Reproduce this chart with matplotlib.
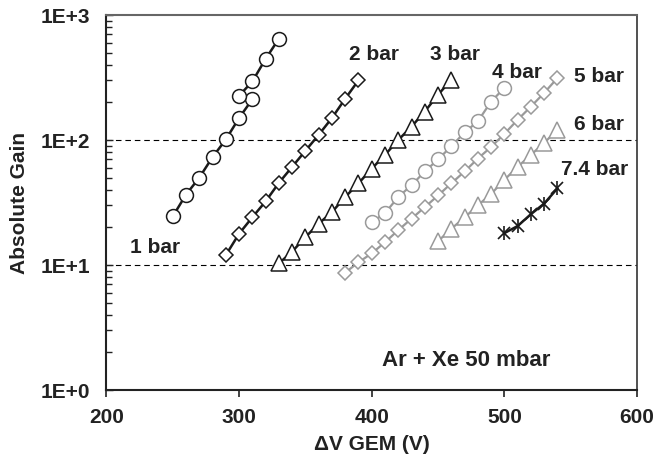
import matplotlib.pyplot as plt

plt.rcParams['font.family'] = ['Liberation Sans', 'DejaVu Sans']
plt.rcParams['font.weight'] = 'bold'

# 1 bar (two runs)
v1 = [250, 260, 270, 280, 290, 300, 310, 300, 310, 320, 330]
g1 = [24.5, 36.6, 50, 73, 101, 150, 212, 226, 294, 446, 646]

v2 = [290, 300, 310, 320, 330, 340, 350, 360, 370, 380, 390]
g2 = [12.0, 17.8, 24.1, 32.3, 45.4, 61, 82, 110, 150, 214, 300]

v3 = [330, 340, 350, 360, 370, 380, 390, 400, 410, 420, 430, 440, 450, 460]
g3 = [10.3, 12.8, 16.7, 21.4, 26.5, 35, 45, 59, 76, 100, 128, 169, 230, 304]

v4 = [400, 410, 420, 430, 440, 450, 460, 470, 480, 490, 500]
g4 = [22, 26, 35, 43.5, 56, 70, 89, 115, 141, 203, 261]

v5 = [380, 390, 400, 410, 420, 430, 440, 450, 460, 470, 480, 490, 500, 510, 520, 530, 540]
g5 = [8.7, 10.5, 12.4, 15.2, 19, 23.5, 29, 36, 45, 56, 71, 88, 112, 145, 185, 238, 313]

v6 = [450, 460, 470, 480, 490, 500, 510, 520, 530, 540]
g6 = [15.5, 19.5, 24, 30, 37, 48, 61, 76, 95, 120]

v74 = [500, 510, 520, 530, 540]
g74 = [18, 20.5, 25.5, 31, 41]

labels = ['1 bar', '2 bar', '3 bar', '4 bar', '5 bar', '6 bar', '7.4 bar']
label_pos = [(217.7, 12.5), (382.9, 437), (444, 437), (490.5, 312),
             (552.6, 293), (552.6, 120), (542.8, 52.5)]

dark = '#1a1a1a'
gray = '#9a9a9a'

fig = plt.figure(figsize=(6.56, 4.62), dpi=100)
ax = fig.add_axes([0.1623, 0.1558, 0.8087, 0.8117])

ax.set_yscale('log')
ax.set_xlim(200, 600)
ax.set_ylim(1, 1000)

for yv in [10, 100]:
    ax.axhline(yv, color='black', lw=0.8, ls=(0, (5, 3.5)), zorder=1)

common = dict(mfc='white', mew=1.1, zorder=3)
ax.plot(v1, g1, '-', marker='o', color=dark, lw=1.8, ms=10, mec=dark, **common)
ax.plot(v2, g2, '-', marker='D', color=dark, lw=1.8, ms=7.5, mec=dark, **common)
ax.plot(v3, g3, '-', marker='^', color=dark, lw=1.8, ms=11, mec=dark, **common)
ax.plot(v4, g4, '-', marker='o', color=gray, lw=1.6, ms=10, mec=gray, **common)
ax.plot(v5, g5, '-', marker='D', color=gray, lw=1.6, ms=7.5, mec=gray, **common)
ax.plot(v6, g6, '-', marker='^', color=gray, lw=1.6, ms=11, mec=gray, **common)
ax.plot(v74, g74, '-', marker='x', color=dark, lw=1.8, ms=8, mew=1.2, zorder=3)
ax.plot(v74, g74, ls='none', marker='|', color=dark, ms=10, mew=1.2, zorder=3)

for lab, (x, y) in zip(labels, label_pos):
    ax.text(x, y, lab, fontsize=15, fontweight='bold', color='#222222',
            ha='left', va='baseline')

ax.text(535, 1.556, 'Ar + Xe 50 mbar', fontsize=16, fontweight='bold',
        color='#222222', ha='right', va='baseline')

ax.set_xticks([200, 300, 400, 500, 600])
ax.set_yticks([1, 10, 100, 1000])
ax.set_yticklabels(['1E+0', '1E+1', '1E+2', '1E+3'])
ax.tick_params(axis='x', direction='out', length=5, width=1.2, pad=8,
               labelsize=15, colors='#222222')
ax.tick_params(axis='y', which='both', direction='in', length=5, width=1,
               pad=12, labelsize=15, colors='#222222')
ax.tick_params(axis='y', which='minor', length=4)

ax.set_xlabel('ΔV GEM (V)', fontsize=15, fontweight='bold', color='#222222', labelpad=6)
ax.set_ylabel('Absolute Gain', fontsize=15, fontweight='bold', color='#222222', labelpad=8)

ax.spines['left'].set_linewidth(1.5)
ax.spines['bottom'].set_linewidth(1.5)
ax.spines['left'].set_color('#222222')
ax.spines['bottom'].set_color('#222222')
ax.spines['top'].set_color('#666666')
ax.spines['top'].set_linewidth(1.5)
ax.spines['right'].set_color('#333333')
ax.spines['right'].set_linewidth(1.2)

fig.savefig('out.png', dpi=100)
